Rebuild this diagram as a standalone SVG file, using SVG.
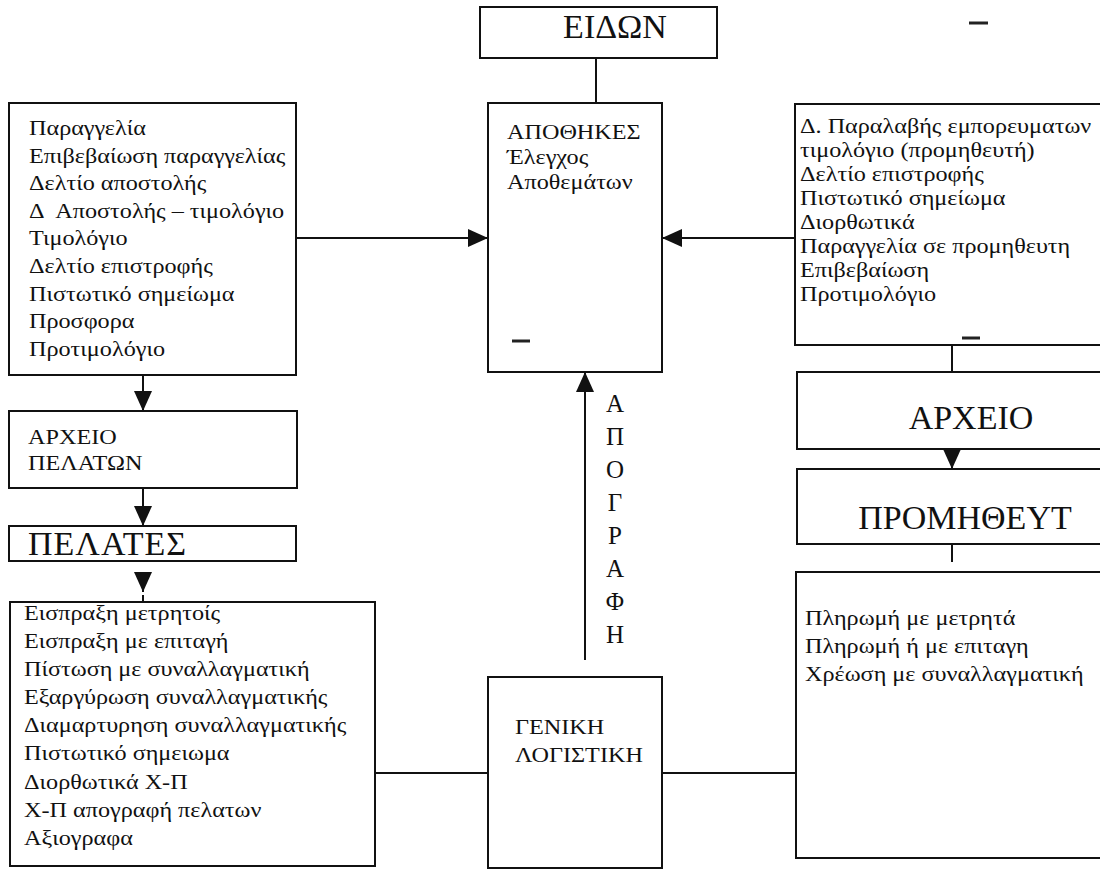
<svg xmlns="http://www.w3.org/2000/svg" width="1100" height="870" viewBox="0 0 1100 870">
<defs>
<style>
.box{fill:#fff;stroke:#111;stroke-width:2}
.ln{fill:none;stroke:#111;stroke-width:2}
.dash{fill:none;stroke:#222;stroke-width:3}
.t{font-family:"Liberation Serif","Times New Roman",serif;font-size:22px;fill:#111}
.big{font-family:"Liberation Serif","Times New Roman",serif;font-size:34px;fill:#111}
.v{font-family:"Liberation Serif","Times New Roman",serif;font-size:25px;fill:#111;text-anchor:middle}
</style>
<marker id="ah" markerUnits="userSpaceOnUse" markerWidth="20" markerHeight="18" refX="20" refY="9" orient="auto">
<path d="M0,0 L20,9 L0,18 z" fill="#111"/>
</marker>
</defs>
<rect width="1100" height="870" fill="#fff"/>

<g id="connectors">
<path class="ln" d="M596,58 V103"/>
<path class="ln" d="M296,238 H488" marker-end="url(#ah)"/>
<path class="ln" d="M797,238 H662" marker-end="url(#ah)"/>
<path class="ln" d="M143,375 V411" marker-end="url(#ah)"/>
<path class="ln" d="M143,488 V526" marker-end="url(#ah)"/>
<path class="ln" d="M143,572 V592" marker-end="url(#ah)"/>
<path class="ln" d="M143,595 V602"/>
<path class="ln" d="M585,660 V372" marker-end="url(#ah)"/>
<path class="ln" d="M375,773 H488"/>
<path class="ln" d="M662,773 H796"/>
<path class="ln" d="M952,345 V372"/>
<path class="ln" d="M952,449 V469" marker-end="url(#ah)"/>
<path class="ln" d="M952,544 V562"/>
</g>

<g id="eidon">
<rect class="box" x="480" y="7" width="237" height="51"/>
<text class="big" x="615" y="38" text-anchor="middle">ΕΙΔΩΝ</text>
</g>

<g id="apothikes">
<rect class="box" x="488" y="103" width="174" height="269"/>
<text class="t" transform="translate(507,139) scale(1.1,1)"><tspan x="0" y="0">ΑΠΟΘΗΚΕΣ</tspan><tspan x="0" y="25">Έλεγχος</tspan><tspan x="0" y="50">Αποθεμάτων</tspan></text>
<path class="dash" d="M512,341 H530"/>
</g>

<g id="customer-docs">
<rect class="box" x="9" y="103" width="287" height="272"/>
<text class="t" transform="translate(29,135) scale(1.1,1)"><tspan x="0" y="0">Παραγγελία</tspan><tspan x="0" y="27.6">Επιβεβαίωση παραγγελίας</tspan><tspan x="0" y="55.2">Δελτίο αποστολής</tspan><tspan x="0" y="82.8">Δ&#160; Αποστολής – τιμολόγιο</tspan><tspan x="0" y="110.4">Τιμολόγιο</tspan><tspan x="0" y="138">Δελτίο επιστροφής</tspan><tspan x="0" y="165.6">Πιστωτικό σημείωμα</tspan><tspan x="0" y="193.2">Προσφορα</tspan><tspan x="0" y="220.8">Προτιμολόγιο</tspan></text>
</g>

<g id="archeio-pelaton">
<rect class="box" x="9" y="411" width="288" height="77"/>
<text class="t" transform="translate(28,444) scale(1.1,1)"><tspan x="0" y="0">ΑΡΧΕΙΟ</tspan><tspan x="0" y="26">ΠΕΛΑΤΩΝ</tspan></text>
</g>

<g id="pelates">
<rect class="box" x="9" y="526" width="287" height="35"/>
<text class="big" x="28" y="555" letter-spacing="1">ΠΕΛΑΤΕΣ</text>
</g>

<g id="customer-payments">
<rect class="box" x="10" y="602" width="365" height="264"/>
<text class="t" transform="translate(24,620) scale(1.1,1)"><tspan x="0" y="0">Εισπραξη μετρητοίς</tspan><tspan x="0" y="28.1">Εισπραξη με επιταγή</tspan><tspan x="0" y="56.2">Πίστωση με συναλλαγματική</tspan><tspan x="0" y="84.3">Εξαργύρωση συναλλαγματικής</tspan><tspan x="0" y="112.4">Διαμαρτυρηση συναλλαγματικής</tspan><tspan x="0" y="140.5">Πιστωτικό σημειωμα</tspan><tspan x="0" y="168.6">Διορθωτικά Χ-Π</tspan><tspan x="0" y="196.7">Χ-Π απογραφή πελατων</tspan><tspan x="0" y="224.8">Αξιογραφα</tspan></text>
</g>

<g id="apografi-label">
<text class="v" x="615" y="412">Α</text>
<text class="v" x="615" y="445">Π</text>
<text class="v" x="615" y="478">Ο</text>
<text class="v" x="615" y="511">Γ</text>
<text class="v" x="615" y="544">Ρ</text>
<text class="v" x="615" y="577">Α</text>
<text class="v" x="615" y="610">Φ</text>
<text class="v" x="615" y="643">Η</text>
</g>

<g id="geniki">
<rect class="box" x="488" y="677" width="174" height="191"/>
<text class="t" transform="translate(515,734) scale(1.1,1)"><tspan x="0" y="0">ΓΕΝΙΚΗ</tspan><tspan x="0" y="28">ΛΟΓΙΣΤΙΚΗ</tspan></text>
</g>

<g id="supplier-docs">
<rect class="box" x="795" y="104" width="310" height="241"/>
<text class="t" transform="translate(800,133) scale(1.1,1)"><tspan x="0" y="0">Δ. Παραλαβής εμπορευματων</tspan><tspan x="0" y="24">τιμολόγιο (προμηθευτή)</tspan><tspan x="0" y="48">Δελτίο επιστροφής</tspan><tspan x="0" y="72">Πιστωτικό σημείωμα</tspan><tspan x="0" y="96">Διορθωτικά</tspan><tspan x="0" y="120">Παραγγελία σε προμηθευτη</tspan><tspan x="0" y="144">Επιβεβαίωση</tspan><tspan x="0" y="168">Προτιμολόγιο</tspan></text>
<path class="dash" d="M962,338 H980"/>
</g>

<g id="archeio">
<rect class="box" x="797" y="372" width="308" height="77"/>
<text class="big" x="971" y="429" text-anchor="middle">ΑΡΧΕΙΟ</text>
</g>

<g id="promitheut">
<rect class="box" x="797" y="469" width="308" height="75"/>
<text class="big" x="965" y="529" text-anchor="middle">ΠΡΟΜΗΘΕΥΤ</text>
</g>

<g id="supplier-payments">
<rect class="box" x="796" y="572" width="309" height="286"/>
<text class="t" transform="translate(805,625) scale(1.1,1)"><tspan x="0" y="0">Πληρωμή με μετρητά</tspan><tspan x="0" y="28">Πληρωμή ή με επιταγη</tspan><tspan x="0" y="56">Χρέωση με συναλλαγματική</tspan></text>
</g>

<path class="dash" d="M969,23 H988"/>
</svg>
